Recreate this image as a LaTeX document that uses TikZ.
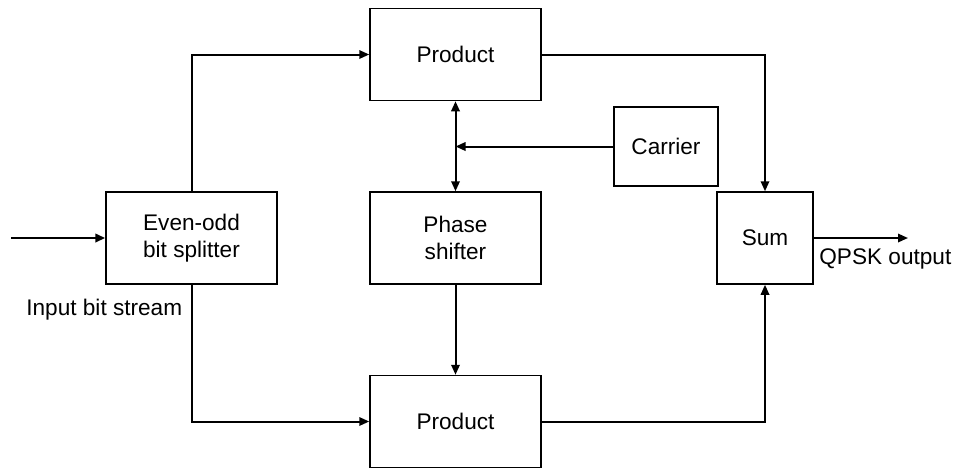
\documentclass[tikz,border=0pt]{standalone}
\usepackage{fontspec}
\setmainfont{Liberation Sans}
\usetikzlibrary{arrows.meta,positioning}
\tikzset{%
	blok/.style={draw, line width=0.75pt, minimum width=85.5pt, minimum height=46pt, align=center, font=\fontsize{11.3}{13.5}\selectfont},
	arrow/.style={line width=1pt,-{Triangle[length=5pt,width=4.2pt]}},
	dblarrow/.style={line width=1pt,{Triangle[length=5pt,width=4.2pt]}-{Triangle[length=5pt,width=4.2pt]}},
	lbl/.style={inner sep=0pt, font=\fontsize{11.3}{13.5}\selectfont}}

\begin{document}
\begin{tikzpicture}[x=0.5pt,y=-0.5pt,node distance=91.75pt]
		\useasboundingbox (0,0) rectangle (958,468);
		\node[blok] (PS) at (455.5,238) {Phase\\shifter};
		\node[blok] (PT) [above of=PS] {Product};
		\node[blok] (PB) [below of=PS] {Product};
		\node[blok] (EO) at (191.5,238) {Even-odd\\bit splitter};
		\node[blok, minimum width=48pt] (SU) at (765,238) {Sum};
		\node[blok, minimum width=52pt, minimum height=39.5pt] (CA) at (666,146.5) {Carrier};
		
		\coordinate (in) at (11,238);
		\coordinate (out) at (908,238);
		\coordinate (jn) at (PS.north |- CA);
		\node[lbl, anchor=west] (inlbl) at (26,310) {Input bit stream};
		\node[lbl, anchor=west] (outlbl) at (819,259) {QPSK output};
		
		\draw[arrow, line width=1.3pt] (in) -- (EO);
		\draw[arrow] (EO) |- (PT);
		\draw[arrow] (EO) |- (PB);
		\draw[dblarrow] (PT) -- (PS);
		\draw[arrow] (CA) -- (jn);
		\draw[arrow] (PS) -- (PB);
		\draw[arrow] (PT) -| (SU);
		\draw[arrow] (PB) -| (SU);
		\draw[arrow] (SU) -- (out);
	\end{tikzpicture}
\end{document}
